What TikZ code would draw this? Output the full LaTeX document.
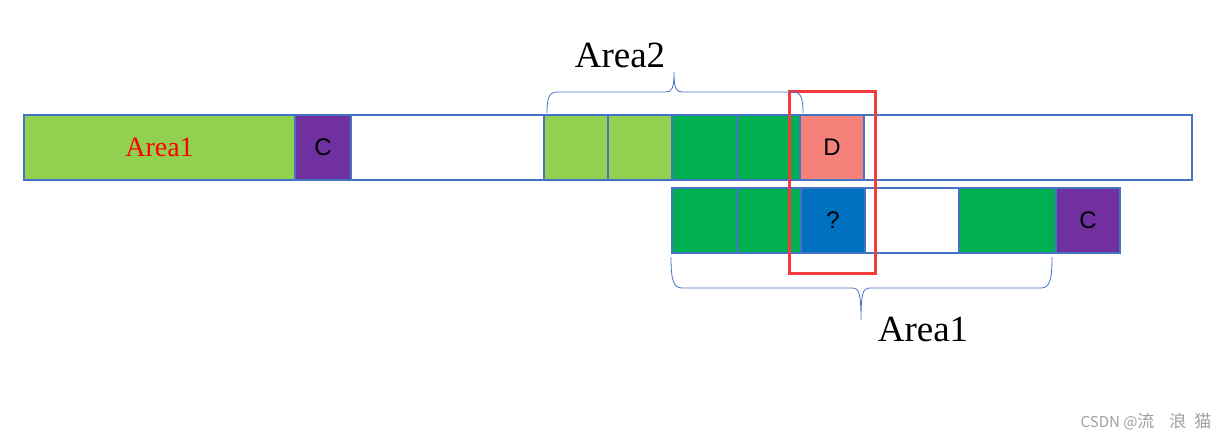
\documentclass[tikz,border=0pt]{standalone}
\usepackage{fontspec}
\setmainfont{Liberation Serif}
\newfontfamily\cellfont{Liberation Sans}
\newfontfamily\cjkfont{Noto Sans CJK SC}
\usepackage{tikz}
\usetikzlibrary{positioning}

\definecolor{lgreen}{HTML}{92D050}
\definecolor{dgreen}{HTML}{00B050}
\definecolor{cpurple}{HTML}{7030A0}
\definecolor{dsalmon}{HTML}{F4817A}
\definecolor{qblue}{HTML}{0070C0}
\definecolor{edgeblue}{HTML}{4472C4}
\definecolor{markred}{HTML}{F23B3B}

\tikzset{
  cell/.style={draw=edgeblue, line width=1.1pt, anchor=north west, minimum height=65pt,
    inner sep=0pt, outer sep=0pt, font=\cellfont\fontsize{24}{26}\selectfont},
  areabrace/.style={draw=edgeblue, line width=0.8pt},
  arealabel/.style={font=\fontsize{37}{40}\selectfont}
}

\begin{document}
\begin{tikzpicture}[x=1pt,y=-1pt]
        \useasboundingbox (0,0) rectangle (1230,441);

        % Upper row
        \foreach \n/\x/\w/\c/\t in {t1/24/271/lgreen/{\color{red}\rmfamily\fontsize{28}{30}\selectfont Area1},
            t2/295/56/cpurple/C, t3/351/193/white/{}, t4/544/64/lgreen/{}, t5/608/64/lgreen/{},
            t6/672/65/dgreen/{}, t7/737/63/dgreen/{}, t8/800/64/dsalmon/D, t9/864/328/white/{}} {
            \node[cell, fill=\c, minimum width=\w pt] (\n) at (\x,115) {\t};
        }

        % Lower row
        \foreach \n/\x/\w/\c/\t in {u1/672/65/dgreen/{}, u2/737/64/dgreen/{}, u3/801/64/qblue/?,
            u4/865/94/white/{}, u5/959/97/dgreen/{}, u6/1056/64/cpurple/C} {
            \node[cell, fill=\c, minimum width=\w pt] (\n) at (\x,188) {\t};
        }

        % Marked column
        \draw[markred, line width=3pt] (789,92) rectangle (875,273);

        % Braces
        \draw[areabrace] (547,113) .. controls (547,98) and (549,92) .. (557,92) -- (666,92)
            .. controls (672,92) and (674,88) .. (674,72) .. controls (674,88) and (676,92) .. (682,92)
            -- (793,92) .. controls (801,92) and (803,98) .. (803,113);
        \node[arealabel] (area2) at (620,55) {Area2};

        \draw[areabrace] (671,257) .. controls (671,279) and (673,288) .. (682,288) -- (853,288)
            .. controls (859,288) and (861,294) .. (861,320) .. controls (861,294) and (863,288) .. (869,288)
            -- (1041,288) .. controls (1050,288) and (1052,279) .. (1052,257);
        \node[arealabel] (area1) at (923,329) {Area1};

        % Watermark
        \node[anchor=east, text=gray!75, font=\cjkfont] (mark) at (1215,422)
            {\fontsize{15}{18}\selectfont CSDN @\fontsize{17}{18}\selectfont 流\hspace{15pt}浪\hspace{8pt}猫};
\end{tikzpicture}
\end{document}
